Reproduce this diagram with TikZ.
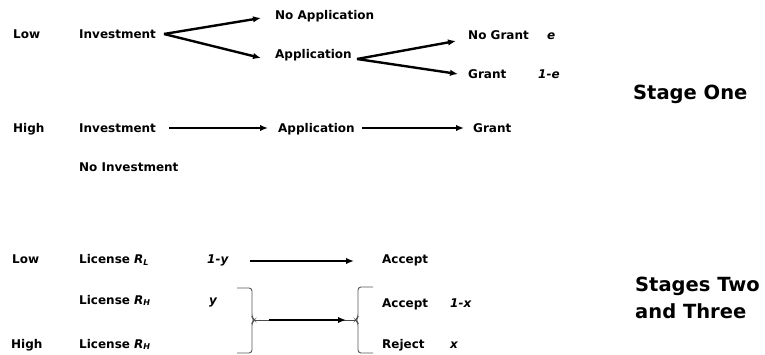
\documentclass[tikz,border=0pt]{standalone}
\usepackage{fontspec}
\setmainfont{DejaVu Sans}
\usetikzlibrary{arrows.meta}
\tikzset{
  lbl/.style={anchor=base west, inner sep=0pt, font=\fontsize{12}{14}\selectfont\bfseries, text=black},
  var/.style={lbl, font=\fontsize{12}{14}\selectfont\bfseries\itshape},
  stage/.style={anchor=base west, inner sep=0pt, font=\fontsize{19.5}{24}\selectfont\bfseries, align=left},
  arr/.style={line width=2.4pt, -{Latex[length=8pt,width=6.5pt]}},
  brace/.style={line width=0.9pt, draw=black!65, rounded corners=3pt},
  thin/.style={line width=0.8pt, draw=black!70}
}
\newcommand{\lic}[1]{License \textit{R\textsubscript{#1}}}
\begin{document}
\begin{tikzpicture}[x=1pt,y=-1pt]
\useasboundingbox (0,0) rectangle (765,355);
% ---------- Stage one ----------
\node[lbl] (lowA) at (13,39) {Low};
\node[lbl] (invL) at (79,39) {Investment};
\node[lbl] (noapp) at (275,20) {No Application};
\node[lbl] (appL) at (275,59) {Application};
\node[lbl] (nogr) at (468,40) {No Grant};
\node[var] (e) at (547,40) {e};
\node[lbl] (grL) at (468,79) {Grant};
\node[var] (onee) at (538,79) {1-e};
\node[lbl] (highA) at (13,133) {High};
\node[lbl] (invH) at (79,133) {Investment};
\node[lbl] (appH) at (278,133) {Application};
\node[lbl] (grH) at (473,133) {Grant};
\node[lbl] (noinv) at (79,172) {No Investment};
\node[stage] (s1) at (633,100) {Stage One};

\coordinate (f1) at (164,34);
\coordinate (f1a) at (261,18);
\coordinate (f1b) at (261,58);
\draw[arr] (f1) -- (f1a);
\draw[arr] (f1) -- (f1b);
\coordinate (f2) at (357,59);
\coordinate (f2a) at (456,41);
\coordinate (f2b) at (458,74);
\draw[arr] (f2) -- (f2a);
\draw[arr] (f2) -- (f2b);
\coordinate (h1s) at (169,128);
\coordinate (h1e) at (268,128);
\coordinate (h2s) at (362,128);
\coordinate (h2e) at (464,128);
\draw[arr] (h1s) -- (h1e);
\draw[arr] (h2s) -- (h2e);

% ---------- Stages two and three ----------
\node[lbl] (lowB) at (12,264) {Low};
\node[lbl] (licL) at (79,264) {\lic{L}};
\node[var] (oney) at (207,264) {1-y};
\node[lbl] (acc1) at (382,264) {Accept};
\node[lbl] (licH1) at (79,304) {\lic{H}};
\node[var] (y) at (209,304) {y};
\node[lbl] (acc2) at (382,307) {Accept};
\node[var] (onex) at (450,307) {1-x};
\node[lbl] (highB) at (11,348) {High};
\node[lbl] (licH2) at (79,348) {\lic{H}};
\node[lbl] (rej) at (382,348) {Reject};
\node[var] (xx) at (450,348) {x};
\node[stage] (s2) at (635,291) {Stages Two};
\node[stage] (s3) at (635,318) {and Three};

\coordinate (ys) at (250,261);
\coordinate (ye) at (354,261);
\draw[arr] (ys) -- (ye);

% right bracket
\draw[brace] (237,288) -- (252,288) -- (252,317.5) -- (254.5,320) -- (252,322.5) -- (252,353) -- (237,353);
% left brace
\draw[brace] (373,287) -- (358,287) -- (358,317.5) -- (355.5,320) -- (358,322.5) -- (358,353) -- (373,353);
\coordinate (bR) at (254.5,320);
\coordinate (bL) at (355.5,320);
\coordinate (ms) at (269,320);
\coordinate (me) at (346,320);
\draw[thin] (bR) -- (bL);
\draw[arr] (ms) -- (me);
\end{tikzpicture}
\end{document}
